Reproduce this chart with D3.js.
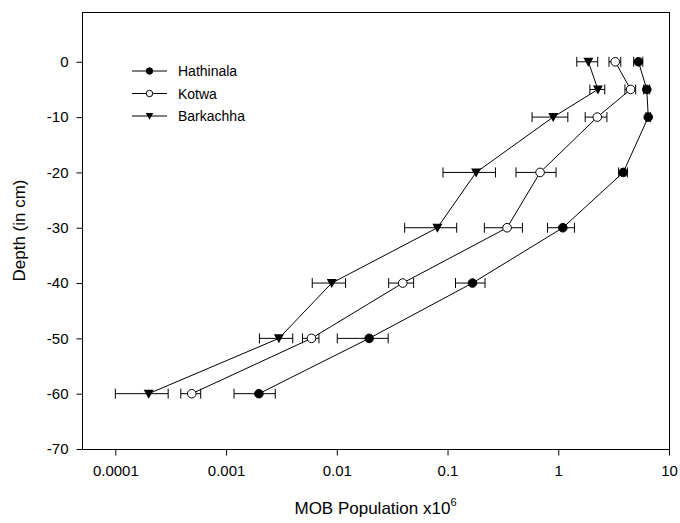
<!DOCTYPE html>
<html lang="en">
<head>
<meta charset="utf-8">
<script src="https://d3js.org/d3.v7.min.js"></script>
<style type="text/css">
body {
    margin: 0;
    background: #fff;
    font-family: "Liberation Sans", Arial, sans-serif;
}
.axis text {
    font-size: 15px;
    fill: #000;
}
.axis path, .axis line {
    stroke: #000;
    stroke-width: 1;
}
</style>
</head>
<body>
<div id="chart"></div>
<script type="text/javascript">

// depth of each sample (cm)
var depths = [0, -5, -10, -20, -30, -40, -50, -60];

// MOB population x10^6 at each depth
var hathinala    = [5.3, 6.3, 6.5, 3.86, 1.1, 0.168, 0.0196, 0.00198];
var hathinalaErr = [0.5, 0.4, 0.3, 0.35, 0.3, 0.05, 0.0095, 0.0008];
var kotwa        = [3.27, 4.5, 2.25, 0.685, 0.345, 0.0394, 0.0059, 0.00049];
var kotwaErr     = [0.4, 0.5, 0.5, 0.27, 0.13, 0.01, 0.001, 0.0001];
var barkachha    = [1.87, 2.28, 0.9, 0.181, 0.081, 0.009, 0.003, 0.0002];
var barkachhaErr = [0.4, 0.35, 0.32, 0.09, 0.04, 0.003, 0.001, 0.0001];

var seriesNames = ["Hathinala", "Kotwa", "Barkachha"];
var xTicks = [0.0001, 0.001, 0.01, 0.1, 1, 10];
var yTicks = [0, -10, -20, -30, -40, -50, -60, -70];

var width = 680, height = 523;
var margin = {left: 82, right: 11, top: 12, bottom: 74};

var svg = d3.select("#chart").append("svg")
    .attr("width", width)
    .attr("height", height);

var x = d3.scaleLog()
    .domain([0.00005, 10])
    .range([margin.left, width - margin.right]);

var y = d3.scaleLinear()
    .domain([-70, 9])
    .range([height - margin.bottom, margin.top]);

// frame
svg.append("rect")
    .attr("x", x.range()[0] + 0.5)
    .attr("y", y.range()[1] + 0.5)
    .attr("width", x.range()[1] - x.range()[0])
    .attr("height", y.range()[0] - y.range()[1])
    .attr("fill", "none")
    .attr("stroke", "#000");

var xAxis = svg.append("g")
    .attr("class", "axis")
    .attr("transform", "translate(0," + (y.range()[0] + 0.5) + ")")
    .call(d3.axisBottom(x).tickValues(xTicks).tickFormat(function(d) { return String(d); }).tickSize(6).tickPadding(10));
xAxis.select(".domain").remove();

var yAxis = svg.append("g")
    .attr("class", "axis")
    .attr("transform", "translate(" + (x.range()[0] + 0.5) + ",0)")
    .call(d3.axisLeft(y).tickValues(yTicks).tickFormat(function(d) { return String(d); }).tickSize(6).tickPadding(8));
yAxis.select(".domain").remove();

// axis titles
var xTitle = svg.append("text")
    .attr("x", (x.range()[0] + x.range()[1]) / 2)
    .attr("y", 514)
    .attr("text-anchor", "middle")
    .style("font-size", "17px")
    .text("MOB Population x10");
xTitle.append("tspan")
    .attr("dy", -8)
    .style("font-size", "11px")
    .text("6");

svg.append("text")
    .attr("transform", "translate(25," + (y.range()[0] + y.range()[1]) / 2 + ") rotate(-90)")
    .attr("text-anchor", "middle")
    .style("font-size", "17px")
    .text("Depth (in cm)");

var series = [
    {name: seriesNames[0], vals: hathinala, errs: hathinalaErr, marker: "filled"},
    {name: seriesNames[1], vals: kotwa, errs: kotwaErr, marker: "open"},
    {name: seriesNames[2], vals: barkachha, errs: barkachhaErr, marker: "tri"}
];

function drawMarker(g, type, cx, cy, k) {
    k = k || 1;
    if (type === "tri") {
        g.append("path")
            .attr("d", "M" + (cx - 5 * k) + "," + (cy - 4 * k) + "L" + (cx + 5 * k) + "," + (cy - 4 * k) + "L" + cx + "," + (cy + 5 * k) + "Z")
            .attr("fill", "#000");
    } else {
        g.append("circle")
            .attr("cx", cx).attr("cy", cy).attr("r", 4.3 * k)
            .attr("fill", type === "filled" ? "#000" : "#fff")
            .attr("stroke", "#000")
            .attr("stroke-width", 1);
    }
}

var line = d3.line()
    .x(function(d) { return x(d[0]); })
    .y(function(d) { return y(d[1]); });

series.forEach(function(s) {
    var g = svg.append("g");
    var pts = s.vals.map(function(v, i) { return [v, depths[i]]; });

    // error bars
    s.vals.forEach(function(v, i) {
        var x0 = x(v - s.errs[i]), x1 = x(v + s.errs[i]), yy = y(depths[i]);
        g.append("line").attr("x1", x0).attr("x2", x1).attr("y1", yy).attr("y2", yy)
            .attr("stroke", "#000");
        g.append("line").attr("x1", x0).attr("x2", x0).attr("y1", yy - 5).attr("y2", yy + 5)
            .attr("stroke", "#000");
        g.append("line").attr("x1", x1).attr("x2", x1).attr("y1", yy - 5).attr("y2", yy + 5)
            .attr("stroke", "#000");
    });

    g.append("path")
        .attr("d", line(pts))
        .attr("fill", "none")
        .attr("stroke", "#000")
        .attr("stroke-width", 1);

    pts.forEach(function(p) {
        drawMarker(g, s.marker, x(p[0]), y(p[1]));
    });
});

// legend
var legend = svg.append("g").attr("transform", "translate(132,71)");
series.forEach(function(s, i) {
    var row = legend.append("g").attr("transform", "translate(0," + (i * 22.5) + ")");
    row.append("line").attr("x1", 0).attr("x2", 35).attr("y1", 0).attr("y2", 0)
        .attr("stroke", "#000");
    drawMarker(row, s.marker, 17.5, 0, 0.75);
    row.append("text")
        .attr("x", 46)
        .attr("y", 5)
        .style("font-size", "14px")
        .text(s.name);
});

</script>
</body>
</html>
